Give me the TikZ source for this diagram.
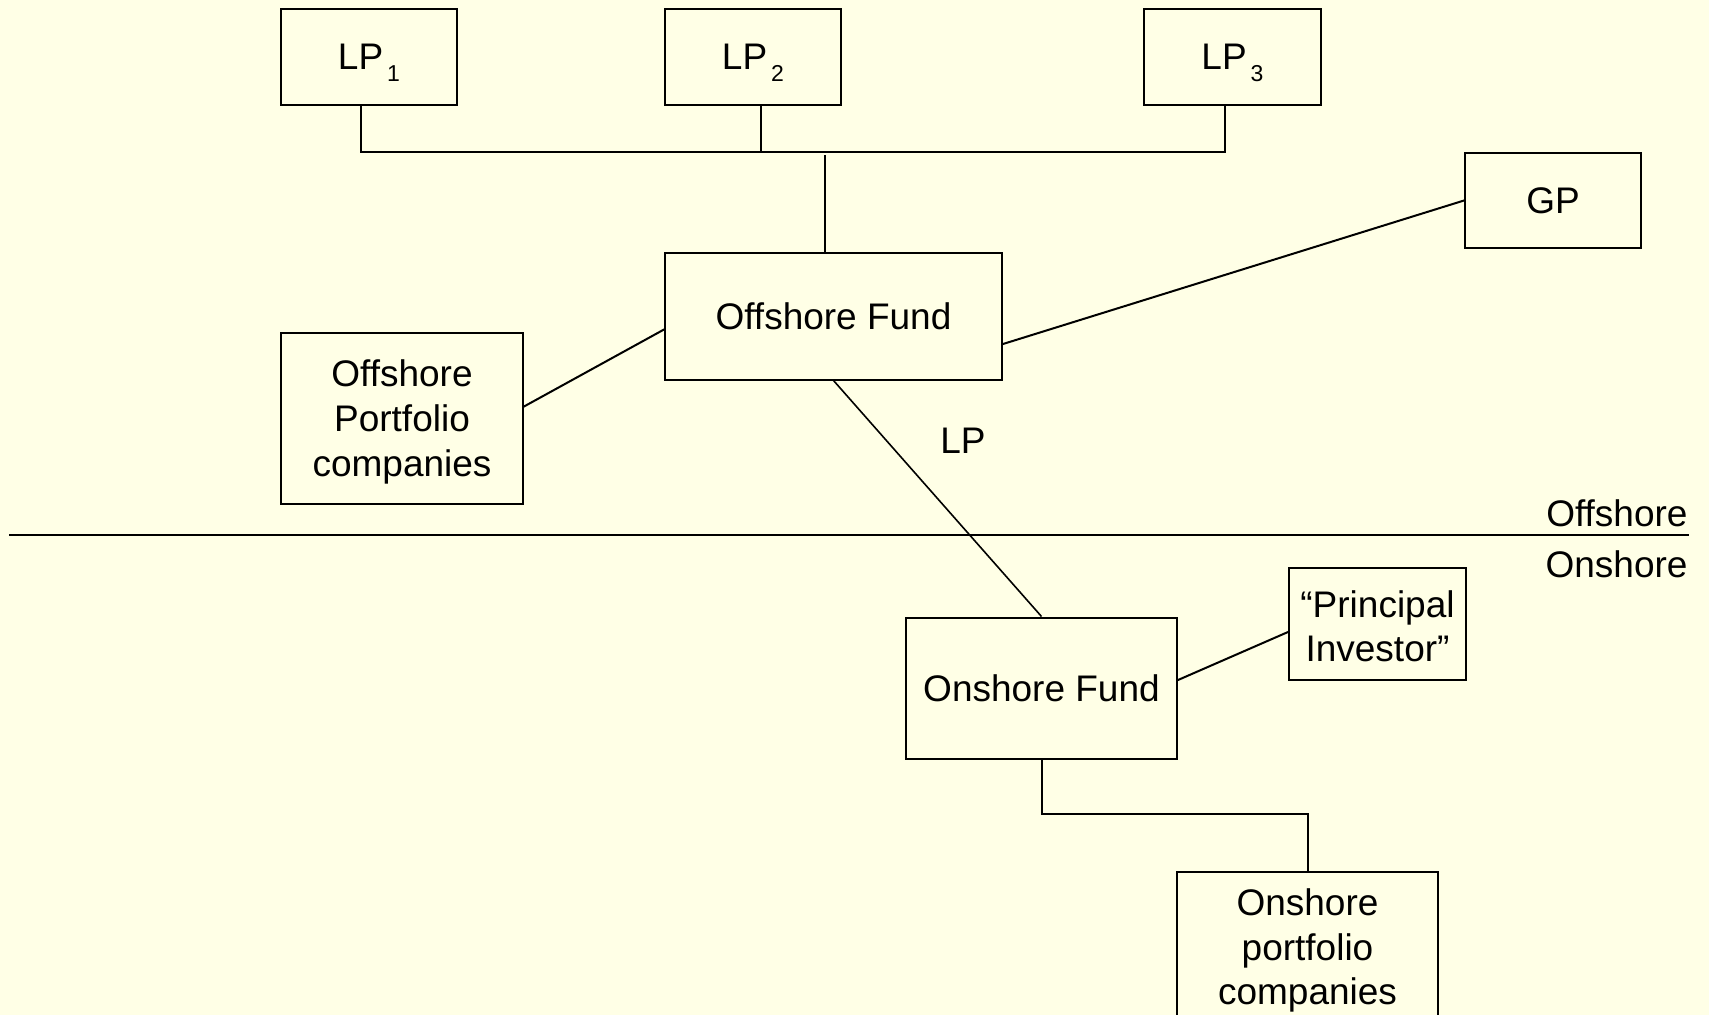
\documentclass[tikz,border=0pt]{standalone}
\usepackage{fontspec}
\setmainfont{Liberation Sans}
\definecolor{paper}{HTML}{FFFFE6}
% limited-partner label with a dropped, small index
\newcommand{\lpidx}[1]{LP\hspace{4pt}\smash{\raisebox{-12pt}{\fontsize{23}{23}\selectfont #1}}}
\begin{document}
\begin{tikzpicture}[x=1pt,y=1pt,
  every node/.style={font=\fontsize{37}{44.7}\selectfont, text=black},
  box/.style={draw=black, line width=2pt, inner sep=0pt, align=center},
  wire/.style={line width=2pt, line cap=rect},
  thinwire/.style={line width=1.6pt}]
  % page
  \fill[paper] (0,0) rectangle (1709,-1015);
  \useasboundingbox (0,0) rectangle (1709,-1015);
  \clip (0,0) rectangle (1709,-1015);

  % limited partners
  \node[box, minimum width=176pt, minimum height=96pt] (lp1) at (369,-57) {\lpidx{1}};
  \node[box, minimum width=176pt, minimum height=96pt] (lp2) at (753,-57) {\lpidx{2}};
  \node[box, minimum width=177pt, minimum height=96pt] (lp3) at (1232.5,-57) {\lpidx{3}};

  % general partner
  \node[box, minimum width=176pt, minimum height=95pt] (gp) at (1553,-200.5) {GP};

  % offshore side
  \node[box, minimum width=337pt, minimum height=127pt] (off) at (833.5,-316) {Offshore Fund};
  \node[box, minimum width=242pt, minimum height=171pt] (opc) at (402,-418) {\rule{0pt}{35pt}Offshore\\Portfolio\\companies};

  % onshore side
  \node[box, minimum width=271pt, minimum height=141pt] (onf) at (1041.5,-688) {Onshore Fund};
  \node[box, minimum width=177pt, minimum height=112pt] (pi) at (1377.5,-624) {\rule{0pt}{31.5pt}“Principal\\Investor”};
  \node[box, minimum width=261pt, minimum height=148pt] (opp) at (1307.5,-946) {\rule{0pt}{36pt}Onshore\\portfolio\\companies};

  % bus joining the limited partners
  \coordinate (busL) at (361,-151.5);
  \coordinate (busM) at (761,-151.5);
  \coordinate (busR) at (1225,-151.5);
  \coordinate (busF) at (825,-156);
  \draw[wire] (lp1.south -| busL) -- (busL) -- (busR) -- (lp3.south -| busR);
  \draw[wire] (lp2.south -| busM) -- (busM);
  \draw[wire] (busF) -- (off.north -| busF);

  % fund links
  \draw[wire] ([yshift=11.5pt]opc.east) -- ([yshift=-13.5pt]off.west);
  \draw[wire] ([yshift=-28pt]off.east) -- (gp.west);
  \draw[thinwire] (off.south) -- (onf.north);
  \node (lplabel) at (963,-441) {LP};
  \draw[wire] ([yshift=8pt]onf.east) -- ([yshift=-8pt]pi.west);
  \coordinate (elbow) at (1041.5,-814);
  \draw[wire] (onf.south) -- (elbow) -- (elbow -| opp.north) -- (opp.north);

  % jurisdiction divider
  \coordinate (divL) at (9,-535);
  \coordinate (divR) at (1689,-535);
  \draw[wire, line cap=butt] (divL) -- (divR);
  \node[anchor=east] (offlabel) at (1691,-513) {Offshore};
  \node[anchor=east] (onlabel) at (1691,-564) {Onshore};
\end{tikzpicture}
\end{document}
